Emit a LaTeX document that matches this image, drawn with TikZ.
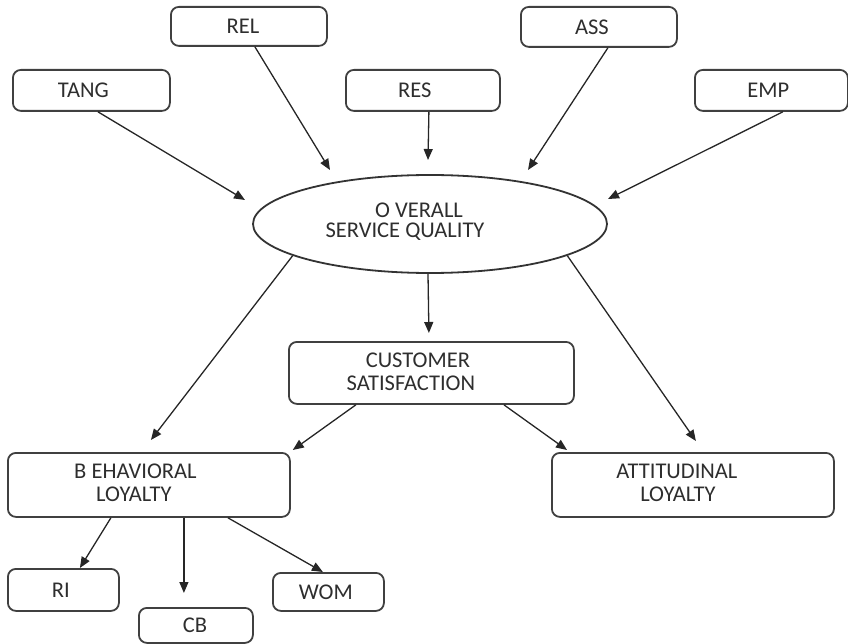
\documentclass[tikz,border=0pt]{standalone}
\usepackage{fontspec}
\setmainfont{Carlito}
\usetikzlibrary{arrows.meta,shapes.geometric}
\begin{document}
\begin{tikzpicture}[x=1pt,y=-1pt,
  box/.style={draw=black!75,line width=1.8pt,rounded corners=8pt,inner sep=0pt,anchor=north west},
  lab/.style={text=black!82,font=\fontsize{22.5}{24}\selectfont,inner sep=0pt},
  link/.style={draw=black!85,line width=1.3pt,-{Triangle[length=11pt,width=9pt]}}]
\useasboundingbox (0,0) rectangle (848,644);

% service quality dimensions
\node[box,minimum width=157pt,minimum height=41pt,label={[lab,xshift=-8pt]center:TANG}] (tang) at (12,69) {};
\node[box,minimum width=156pt,minimum height=39pt,label={[lab,xshift=-6pt]center:REL}] (rel) at (170,6) {};
\node[box,minimum width=154pt,minimum height=41pt,label={[lab,xshift=-8pt]center:RES}] (res) at (345,69) {};
\node[box,minimum width=156pt,minimum height=40pt,label={[lab,xshift=-7pt]center:ASS}] (ass) at (520,6) {};
\node[box,minimum width=153pt,minimum height=41pt,label={[lab,xshift=-3pt]center:EMP}] (emp) at (694,69) {};

% overall service quality
\node[ellipse,draw=black!80,line width=1.8pt,minimum width=354pt,minimum height=98pt,inner sep=0pt,
  label={[lab,shift={(-11pt,14pt)}]center:O VERALL},
  label={[lab,shift={(-25pt,-8pt)}]center:SERVICE QUALITY}] (osq) at (430,224) {};

% satisfaction and loyalty
\node[box,minimum width=285pt,minimum height=62pt,
  label={[lab,shift={(-13.5pt,13pt)}]center:CUSTOMER},
  label={[lab,shift={(-20.5pt,-10pt)}]center:SATISFACTION}] (cs) at (288,341) {};
\node[box,minimum width=282pt,minimum height=64pt,
  label={[lab,shift={(-13.5pt,14pt)}]center:B EHAVIORAL},
  label={[lab,shift={(-15pt,-9pt)}]center:LOYALTY}] (bl) at (7,452) {};
\node[box,minimum width=282pt,minimum height=64pt,
  label={[lab,shift={(-16pt,14pt)}]center:ATTITUDINAL},
  label={[lab,shift={(-15pt,-9pt)}]center:LOYALTY}] (al) at (551,452) {};

% behavioural loyalty outcomes
\node[box,minimum width=111pt,minimum height=42pt,label={[lab,xshift=-2.5pt]center:RI}] (ri) at (7,568) {};
\node[box,minimum width=114pt,minimum height=35pt,label={[lab,xshift=-1pt]center:CB}] (cb) at (138,607) {};
\node[box,minimum width=111pt,minimum height=38pt,label={[lab,xshift=-2.5pt]center:WOM}] (wom) at (272,572) {};

% arrow tips that stop short of the ellipse
\coordinate (tangTip) at (245,200);
\coordinate (relTip) at (330,170);
\coordinate (resTip) at (428,160);
\coordinate (assTip) at (528,170);
\coordinate (empTip) at (608,199);

\draw[link] ([xshift=6.5pt]tang.south) -- (tangTip);
\draw[link] ([xshift=6pt]rel.south) -- (relTip);
\draw[link] ([xshift=6pt]res.south) -- (resTip);
\draw[link] ([xshift=9pt]ass.south) -- (assTip);
\draw[link] ([xshift=11.5pt]emp.south) -- (empTip);

\draw[link] (osq.193) -- ([shift={(2pt,12pt)}]bl.north);
\draw[link] ([xshift=-2pt]osq.south) -- ([shift={(-2.5pt,8pt)}]cs.north);
\draw[link] (osq.347) -- ([shift={(3pt,11pt)}]al.north);

\draw[link] ([xshift=-75.5pt]cs.south) -- ([shift={(2pt,2pt)}]bl.north east);
\draw[link] ([xshift=72.5pt]cs.south) -- ([shift={(16pt,2pt)}]al.north west);

\draw[link] ([xshift=-38pt]bl.south) -- ([xshift=16.5pt]ri.north);
\draw[link] ([xshift=35pt]bl.south) -- ([shift={(-12pt,14pt)}]cb.north);
\draw[link] ([xshift=79pt]bl.south) -- ([xshift=-5.5pt]wom.north);
\end{tikzpicture}
\end{document}
